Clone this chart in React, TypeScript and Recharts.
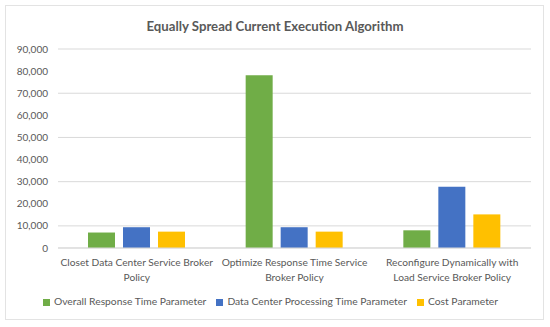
import React from "react";
import {
  BarChart,
  Bar,
  XAxis,
  YAxis,
  CartesianGrid,
  Legend,
} from "recharts";

const categories = [
  "Closet Data Center Service Broker\nPolicy",
  "Optimize Response Time Service\nBroker Policy",
  "Reconfigure Dynamically with\nLoad Service Broker Policy",
];
const overallResponse = [7000, 78100, 8000];
const dataCenterProcessing = [9400, 9400, 27700];
const costParameter = [7400, 7400, 15200];
const yTicks = [0, 10000, 20000, 30000, 40000, 50000, 60000, 70000, 80000, 90000];
const seriesOrder = ["overall", "processing", "cost"];

const data = categories.map((name, i) => ({
  name,
  overall: overallResponse[i],
  processing: dataCenterProcessing[i],
  cost: costParameter[i],
}));

const FONT = "Lato, 'Noto Sans', sans-serif";
const TEXT = "#595959";

const CategoryTick = (props: any) => {
  const { x, y, payload } = props;
  const lines = String(payload.value).split("\n");
  return (
    <text x={x} y={y} textAnchor="middle" fill={TEXT} fontSize={10.2} fontFamily={FONT}>
      {lines.map((line, i) => (
        <tspan key={i} x={x} dy={i === 0 ? 10 : 15}>
          {line}
        </tspan>
      ))}
    </text>
  );
};

export default function App() {
  return (
    <div style={{ position: "absolute", left: 0, top: 0, width: 550, height: 327, background: "#fff" }}>
      <div
        style={{
          position: "absolute",
          left: 5,
          top: 5,
          width: 537,
          height: 313,
          border: "1px solid #e3e3e3",
        }}
      />
      <div
        style={{
          position: "absolute",
          left: 0,
          top: 18,
          width: 550,
          textAlign: "center",
          fontFamily: FONT,
          fontWeight: 700,
          fontSize: 13.2,
          color: TEXT,
        }}
      >
        Equally Spread Current Execution Algorithm
      </div>
      <BarChart
        width={550}
        height={327}
        data={data}
        margin={{ top: 49, right: 19, left: 0, bottom: 20 }}
        barCategoryGap={30}
        barGap={8}
      >
        <CartesianGrid vertical={false} stroke="#d9d9d9" />
        <XAxis
          dataKey="name"
          interval={0}
          height={47}
          tick={<CategoryTick />}
          tickLine={false}
          axisLine={{ stroke: "#d9d9d9" }}
        />
        <YAxis
          width={58}
          domain={[0, 90000]}
          ticks={yTicks}
          tickFormatter={(v: number) => v.toLocaleString("en-US")}
          tick={{ fill: TEXT, fontSize: 10, fontFamily: FONT }}
          tickLine={false}
          axisLine={false}
          tickMargin={4}
        />
        <Legend
          iconType="square"
          iconSize={7}
          itemSorter={(item: any) => seriesOrder.indexOf(item.dataKey)}
          wrapperStyle={{ fontSize: 10.3, fontFamily: FONT, color: TEXT, left: 10 }}
          formatter={(value: string) => <span style={{ color: TEXT }}>{value}</span>}
        />
        <Bar dataKey="overall" name="Overall Response Time Parameter" fill="#70ad47" isAnimationActive={false} />
        <Bar dataKey="processing" name="Data Center Processing Time Parameter" fill="#4472c4" isAnimationActive={false} />
        <Bar dataKey="cost" name="Cost Parameter" fill="#ffc000" isAnimationActive={false} />
      </BarChart>
    </div>
  );
}
